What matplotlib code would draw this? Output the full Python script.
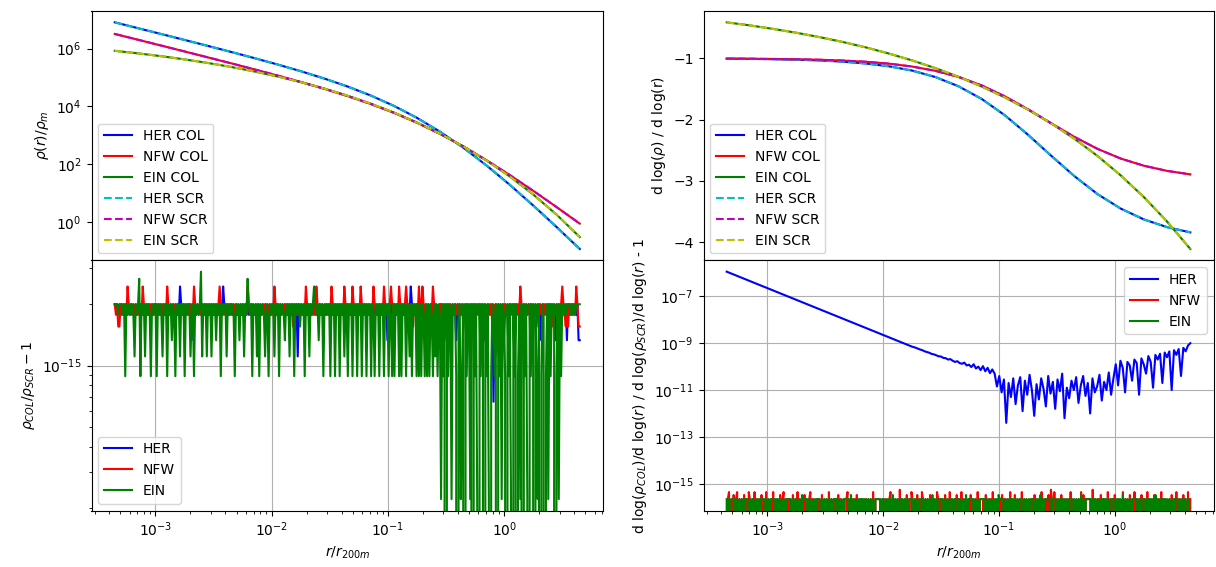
import numpy as np
import matplotlib
matplotlib.use("Agg")
import matplotlib.pyplot as plt

# ---------------- data ----------------
# coarse radii (r / r_200m) for the smooth profiles
r_coarse = [4.467e-4, 7.079e-4, 1.122e-3, 1.778e-3, 2.818e-3, 4.467e-3, 7.079e-3,
            1.122e-2, 1.778e-2, 2.818e-2, 4.467e-2, 7.079e-2, 0.1122, 0.1778,
            0.2818, 0.4467, 0.7079, 1.122, 1.778, 2.818, 4.467]

# log10(rho / rho_m)
her_logrho = [6.904, 6.702, 6.500, 6.297, 6.091, 5.883, 5.670, 5.449, 5.217, 4.967, 4.692,
              4.381, 4.023, 3.606, 3.123, 2.571, 1.956, 1.288, 0.579, -0.161, -0.921]
nfw_logrho = [6.503, 6.303, 6.101, 5.899, 5.695, 5.490, 5.281, 5.067, 4.845, 4.612, 4.362,
              4.088, 3.783, 3.438, 3.049, 2.615, 2.138, 1.626, 1.087, 0.527, -0.046]
ein_logrho = [5.920, 5.833, 5.735, 5.625, 5.502, 5.364, 5.209, 5.035, 4.840, 4.621, 4.375,
              4.100, 3.791, 3.444, 3.054, 2.617, 2.127, 1.577, 0.960, 0.268, -0.509]

# logarithmic slopes
her_slope = [-1.005, -1.008, -1.013, -1.021, -1.033, -1.053, -1.083, -1.129, -1.199, -1.304,
             -1.455, -1.662, -1.929, -2.247, -2.590, -2.923, -3.217, -3.453, -3.630, -3.756, -3.841]
nfw_slope = [-1.004, -1.006, -1.009, -1.014, -1.022, -1.035, -1.055, -1.086, -1.133, -1.203,
             -1.303, -1.441, -1.620, -1.831, -2.060, -2.282, -2.478, -2.636, -2.753, -2.837, -2.894]
ein_slope = [-0.411, -0.461, -0.518, -0.581, -0.652, -0.731, -0.820, -0.921, -1.033, -1.159,
             -1.300, -1.459, -1.637, -1.837, -2.061, -2.312, -2.594, -2.911, -3.266, -3.665, -4.112]

# density ratio residuals, in units of machine epsilon (2.22e-16); one hex digit per radius
her_drho_k = ("99989898989898989898" "98989898989898989898" "9898989898989898b989"
              "89898969898989898989" "8989898989898b989898" "98989898989898989898"
              "89898989898989898989" "98989898989898989598" "98989898989898989898"
              "89898989898989898989" "98989898989898989898" "89898989898989698989"
              "98989898989898b98989" "89898989898989898689" "98969898989896989898"
              "89898969898989898968" "98989389898989698989" "89898989698989898969"
              "89898968989898989869" "89898989698989898966")
nfw_drho_k = ("98977989898b98989898" "9898b989898989898989" "89898b98989898989898"
              "98989898b98989898989" "8989898989b989898989" "98989898989898b98989"
              "89898989898989898b98" "98989898989897989898" "9898b98989898b989898"
              "989898b9898989898b98" "9898b989898b98989898" "98b98989898b98989b98"
              "9898b98989b989897989" "8b98b97989898b989879" "89789898979898989897"
              "98989798989898979898" "89897989898989798989" "98989898b98979898989"
              "89798989898989897989" "8989b98797989898b977")
ein_drho_k = ("99989998949898998598" "9c498959898498994989" "85989498969849895989"
              "49899589498989d59895" "98959896989498995989" "89849896989598c98949"
              "89594989859849899598" "94989869895989498997" "98949895989b98969894"
              "98989498949894989598" "49894989498949894989" "49849894989498949849"
              "49894949894985949894" "94949849494984959498" "19490949819894099149"
              "09498190949109498094" "91049849094919840949" "10949048190949109498"
              "09419049804919498904" "91949898999898989999")

# slope ratio residuals: HER smooth part (at r_coarse[0:9]) and noisy part (log10 values)
her_dslope_log_smooth = [-5.95, -6.35, -6.75, -7.15, -7.55, -7.95, -8.35, -8.75, -9.15]
her_dslope_log_noisy = [-9.19,-9.23,-9.27,-9.30,-9.35,-9.38,-9.41,-9.46,-9.48,-9.52,
                        -9.56,-9.57,-9.63,-9.64,-9.70,-9.68,-9.75,-9.80,-9.77,-9.85,
                        -9.88,-9.83,-9.95,-9.92,-10.02,-9.90,-10.08,-10.00,-10.15,-9.98,
                        -10.20,-10.05,-10.28,-10.12,-10.30,
                        -10.85,-10.40,-11.10,-10.55,-12.40,-10.70,-11.30,-10.50,-11.60,-10.80,
                        -10.45,-11.90,-10.60,-11.20,-10.35,-11.00,-12.10,-10.75,-11.40,-10.50,
                        -10.95,-11.70,-10.40,-11.15,-10.65,-11.80,-10.55,-11.05,-10.30,-12.20,
                        -10.90,-11.35,-10.60,-11.00,-10.45,-11.55,-10.80,-10.40,-11.25,-10.70,
                        -12.00,-10.50,-11.10,-10.85,-10.35,-11.45,-10.65,-11.00,-10.25,-11.20,
                        -10.50,-9.90,-10.80,-9.75,-10.05,-11.10,-9.80,-9.95,-10.60,-9.70,
                        -9.85,-11.20,-9.65,-9.90,-10.30,-9.55,-9.80,-10.90,-9.50,-9.70,
                        -9.45,-10.70,-9.40,-9.60,-9.35,-11.00,-9.30,-9.50,-9.25,-10.40,
                        -9.20,-9.35,-9.10,-9.00]
# NFW / EIN slope residuals in units of eps/2 (1.11e-16); one digit per radius
nfw_dslope_k = ("02402030240202030204" "20204020203020402020" "40202030240202020302"
                "04020203020240202020" "20302020402020203020" "02024020202030202020"
                "20202040222220202020" "24020202050202030204" "20203020420202030202"
                "04202020302040202030" "20402020203020204020" "02030202040202020302"
                "20204020302020402020" "02020302020402020305" "20402020302020204020"
                "02020403022222050202" "20302020402020302020" "04020203020402020302"
                "20402020302020402020" "02030204020203020402")
ein_dslope_k = ("20202222020202022220" "20220202022220202022" "22020202020222220202"
                "02020322220202020222" "20202020202022220202" "02222203020202022202"
                "20202020222220220202" "02030202022202020222" "20202022220202020302"
                "02022220202022202202" "20202030222220202022" "22202020202020322220"
                "20202220202022202020" "20222020203020222220" "22220202020202022202"
                "02020302022222022202" "02022202020222020202" "03020202022222020222"
                "02022202030202022202" "02020222202020220220")

EPS = 2.220446e-16
R_MIN, R_MAX = r_coarse[0], r_coarse[-1]


def digits(s):
    return np.array([int(c, 16) for c in s], dtype=float)


def grid(n):
    # evenly log-spaced sampling radii between the first and last radius
    return np.geomspace(R_MIN, R_MAX, n)


# ---------------- figure ----------------
W, H = 1216, 567
fig = plt.figure(figsize=(W / 100, H / 100), dpi=100)


def rect(x0, y0, x1, y1):
    return [x0 / W, 1 - y1 / H, (x1 - x0) / W, (y1 - y0) / H]


ax_tl = fig.add_axes(rect(91.5, 11, 603, 260.3))
ax_bl = fig.add_axes(rect(91.5, 260.3, 603, 510.5), sharex=ax_tl)
ax_tr = fig.add_axes(rect(703.5, 11, 1213.5, 260.3), sharex=ax_tl)
ax_br = fig.add_axes(rect(703.5, 260.3, 1213.5, 510.5), sharex=ax_tl)

rc = np.array(r_coarse)

# top-left: density profiles
ax_tl.plot(rc, 10.0 ** np.array(her_logrho), 'b-', label='HER COL')
ax_tl.plot(rc, 10.0 ** np.array(nfw_logrho), 'r-', label='NFW COL')
ax_tl.plot(rc, 10.0 ** np.array(ein_logrho), 'g-', label='EIN COL')
ax_tl.plot(rc, 10.0 ** np.array(her_logrho), 'c--', label='HER SCR')
ax_tl.plot(rc, 10.0 ** np.array(nfw_logrho), 'm--', label='NFW SCR')
ax_tl.plot(rc, 10.0 ** np.array(ein_logrho), 'y--', label='EIN SCR')
ax_tl.set_xscale('log')
ax_tl.set_yscale('log')
ax_tl.set_ylabel(r'$\rho(r)/\rho_m$')
ax_tl.legend(loc='lower left')
ax_tl.tick_params(labelbottom=False)

# top-right: slopes
ax_tr.plot(rc, her_slope, 'b-', label='HER COL')
ax_tr.plot(rc, nfw_slope, 'r-', label='NFW COL')
ax_tr.plot(rc, ein_slope, 'g-', label='EIN COL')
ax_tr.plot(rc, her_slope, 'c--', label='HER SCR')
ax_tr.plot(rc, nfw_slope, 'm--', label='NFW SCR')
ax_tr.plot(rc, ein_slope, 'y--', label='EIN SCR')
ax_tr.set_ylabel(r'd log($\rho$) / d log(r)')
ax_tr.legend(loc='lower left')
ax_tr.tick_params(labelbottom=False)

# bottom-left: density residuals
for s, c, lab in [(her_drho_k, 'b', 'HER'), (nfw_drho_k, 'r', 'NFW'), (ein_drho_k, 'g', 'EIN')]:
    k = digits(s)
    ax_bl.plot(grid(len(k)), k * EPS, color=c, label=lab)
ax_bl.set_yscale('log')
ax_bl.set_xlabel(r'$r/r_{200m}$')
ax_bl.set_ylabel(r'$\rho_{COL}/\rho_{SCR}-1$')
ax_bl.grid(True)
ax_bl.legend(loc='lower left')

# bottom-right: slope residuals
r200 = grid(200)
her_r = np.concatenate([rc[:9], r200[200 - len(her_dslope_log_noisy):]])
her_v = 10.0 ** np.concatenate([her_dslope_log_smooth, her_dslope_log_noisy])
ax_br.plot(her_r, her_v, 'b-', label='HER')
for s, c, lab in [(nfw_dslope_k, 'r', 'NFW'), (ein_dslope_k, 'g', 'EIN')]:
    k = digits(s)
    ax_br.plot(grid(len(k)), k * EPS / 2, color=c, label=lab)
ax_br.set_yscale('log')
ax_br.set_yticks([1e-15, 1e-13, 1e-11, 1e-9, 1e-7])
ax_br.set_xlabel(r'$r/r_{200m}$')
ax_br.set_ylabel(r'd log($\rho_{COL}$)/d log($r$) / d log($\rho_{SCR}$)/d log($r$) - 1')
ax_br.grid(True)
ax_br.legend(loc='upper right')

fig.savefig('out.png', dpi=100)
